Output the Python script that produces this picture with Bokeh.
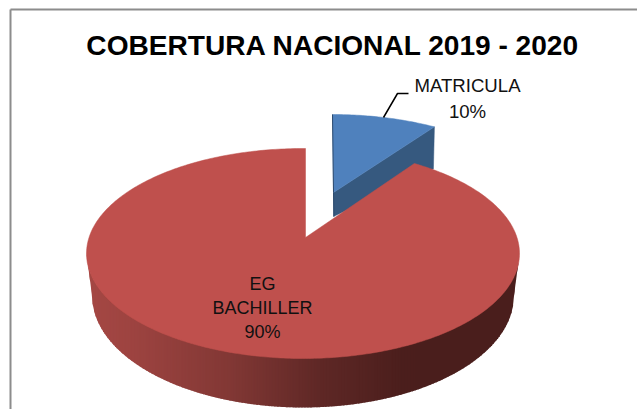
import numpy as np
from bokeh.plotting import figure
from bokeh.core.properties import value
from bokeh.embed import file_html
from bokeh.resources import INLINE

title = "COBERTURA NACIONAL 2019 - 2020"
categories = ["MATRICULA", "EG\nBACHILLER"]
shares = [10, 90]

FONT = "Liberation Sans"
W, H = 637, 409
p = figure(width=W, height=H, x_range=(0, W), y_range=(H, 0),
           output_backend="svg", toolbar_location=None, min_border=0,
           x_axis_location=None, y_axis_location=None, outline_line_color=None)
p.grid.visible = False
p.background_fill_color = "white"
p.border_fill_color = "white"

# frame
p.line([10, 10], [409, 9], line_color="#8c8c8c", line_width=2)
p.line([10, 637], [9, 9], line_color="#8c8c8c", line_width=2)

# projection of the two slices
GAIN_BLUE, GAIN_RED = 0.78, 0.86
blue_sweep = np.radians(shares[0] / sum(shares) * 360 * GAIN_BLUE)
gap = np.radians(shares[0] / sum(shares) * 360 * GAIN_RED)

TOP = dict(cx=302.5, cy=253, a=216.5, b=105)
BOT = dict(cx=302.5, cy=295, a=211, b=112)
BLUE = dict(cx=332, cy=219, a=216.5, b=105)
APEX_RED = (305, 237)
APEX_BLUE = (333, 192)


def ell(e, t):
    return e["cx"] + e["a"] * np.cos(t), e["cy"] - e["b"] * np.sin(t)


# blue side wall (drawn first, the red top overlaps it)
bx, by = ell(BLUE, np.pi / 2 - blue_sweep)
p.patch([APEX_BLUE[0], bx, bx - 1, APEX_BLUE[0]],
        [APEX_BLUE[1], by, by + 42, APEX_BLUE[1] + 24],
        fill_color="#36597f", line_color="#36597f", line_width=0.5)

# blue top
t = np.linspace(np.pi / 2, np.pi / 2 - blue_sweep, 40)
x, y = ell(BLUE, t)
p.patch(np.r_[APEX_BLUE[0], x], np.r_[APEX_BLUE[1], y],
        fill_color="#4f81bd", line_color="#4f81bd", line_width=0.5)
p.line([BLUE["cx"], APEX_BLUE[0], APEX_BLUE[0] + 0.5],
       [BLUE["cy"] - BLUE["b"], APEX_BLUE[1], APEX_BLUE[1] + 24],
       line_color="#2c4a6e", line_width=1)

# red wall, as vertical strips shaded from left to right
stops_x = [86, 130, 230, 320, 400, 430, 519]
stops_r = [165, 158, 130, 95, 76, 74, 74]
stops_g = [72, 68, 56, 40, 31, 30, 30]
stops_b = [68, 65, 53, 38, 29, 28, 28]
edges = np.arange(TOP["cx"] - TOP["a"], TOP["cx"] + TOP["a"] + 0.5, 1.5)
xs, ys, cols = [], [], []
tt = np.linspace(np.pi, 2 * np.pi, 721)
tx, ty = ell(TOP, tt)
bx2, by2 = ell(BOT, tt)
# outline of the wall's lower edge, joined to the ends of the top ellipse
lx = np.r_[tx[0], bx2, tx[-1]]
ly = np.r_[ty[0], by2, ty[-1]]
for l, r in zip(edges[:-1], edges[1:]):
    q = np.array([l, min(r + 0.6, edges[-1])])
    upper = np.interp(q, tx, ty)
    lower = np.maximum(np.interp(q, lx, ly), upper)
    xs.append([q[0], q[1], q[1], q[0]])
    ys.append([upper[0] - 1, upper[1] - 1, lower[1], lower[0]])
    m = (l + r) / 2
    cols.append("#%02x%02x%02x" % (int(np.interp(m, stops_x, stops_r)),
                                   int(np.interp(m, stops_x, stops_g)),
                                   int(np.interp(m, stops_x, stops_b))))
p.patches(xs, ys, fill_color=cols, line_color=None)

# red top
t = np.linspace(np.pi / 2 - gap, np.pi / 2 - 2 * np.pi, 400)
x, y = ell(TOP, t)
x = np.r_[APEX_RED[0], x]
y = np.r_[APEX_RED[1], y]
x[-1] = APEX_RED[0]
p.patch(x, y, fill_color="#bf504d", line_color="#bf504d", line_width=0.5)

# leader
p.line([383, 397, 408], [117, 93, 93], line_color="black", line_width=1.5)

# texts
p.text([332.5], [45], text=[title], text_font=value(FONT), text_font_style="bold",
       text_font_size="28.1px", text_align="center", text_baseline="middle", text_color="black")
p.text([467], [98], text=[f"{categories[0]}\n{shares[0]}%"], text_font=value(FONT),
       text_font_size="18.6px", text_align="center", text_baseline="middle", text_color="#111111")
p.text([262], [307], text=[f"{categories[1]}\n{shares[1]}%"], text_font=value(FONT),
       text_font_size="18px", text_align="center", text_baseline="middle", text_color="#111111")

open("out.html", "w").write(file_html(p, INLINE))
